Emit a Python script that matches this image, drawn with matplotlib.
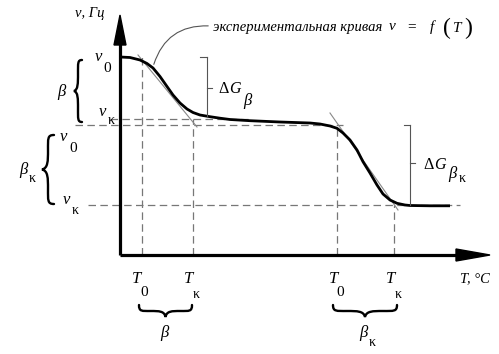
import numpy as np
import matplotlib.pyplot as plt
from matplotlib.path import Path
from matplotlib.patches import PathPatch, Polygon

# experimental curve nu = f(T), schematic units (origin at the axes corner)
T_curve = [0, 10, 20, 27, 33, 40, 47, 53, 60, 67, 73, 80, 90, 100, 110, 130,
           160, 190, 200, 210, 217, 223, 230, 237, 243, 250, 257, 263, 270,
           277, 285, 290, 310, 330]
nu_curve = [198, 197.5, 195, 191.5, 187, 178.5, 168.5, 160, 152, 146, 142.5,
            140, 138.3, 136.8, 135.5, 134.3, 133, 132, 131, 129, 126.7, 122,
            115, 105, 93.3, 82, 70, 61, 55, 51.7, 50, 49.5, 49.2, 49.2]

# characteristic points of the two transitions (beta and beta_k)
T0 = [22, 217]
Tk = [73, 274]
nu0 = [198, 130]
nuk = [136, 50]

# tangents at the inflection points
tan1_T = [18, 77]
tan1_nu = [200, 128]
tan2_T = [210, 278]
tan2_nu = [142, 45]

X0, Y0 = 120, 255  # pixel position of the origin


def px(x, y):
    return x - X0, Y0 - y


def lbl(x, y, s, size=11, style='italic', **kw):
    ax.text(*px(x, y), s, fontsize=size, style=style, ha='center', va='center',
            family=['Liberation Serif', 'DejaVu Serif'], **kw)


def brace(a, b, depth, lw=1.7):
    a = np.array(a, float)
    b = np.array(b, float)
    L = np.linalg.norm(b - a)
    t = (b - a) / L
    n = np.array([t[1], -t[0]])
    m = (a + b) / 2
    tip = m + n * depth
    h = n * depth * 0.5
    q1 = a + t * L * 0.22 + h
    q2 = b - t * L * 0.22 + h
    verts = [a, a + h * 1.1, a + t * L * 0.05 + h, q1,
             q1 + t * L * 0.16, m - t * L * 0.02 + h, tip,
             m + t * L * 0.02 + h, q2 - t * L * 0.16, q2,
             b - t * L * 0.05 + h, b + h * 1.1, b]
    codes = [Path.MOVETO] + [Path.CURVE4] * 12
    ax.add_patch(PathPatch(Path(verts, codes), fill=False, lw=lw,
                           color='black', capstyle='round'))


fig = plt.figure(figsize=(4.99, 3.54), dpi=100)
ax = fig.add_axes([0, 0, 1, 1])
ax.set_xlim(-X0, 499 - X0)
ax.set_ylim(Y0 - 354, Y0)
ax.axis('off')

dash = dict(color='#777777', lw=0.9, dashes=(6, 3.5))
thin = dict(color='#555555', lw=0.8)

# dashed guide lines
ax.plot([T0[0], T0[0]], [0, nu0[0]], **dash)
ax.plot([Tk[0], Tk[0]], [0, nuk[0]], **dash)
ax.plot([T0[1], T0[1]], [0, nu0[1]], **dash)
ax.plot([Tk[1], Tk[1]], [0, nuk[1]], **dash)
ax.plot([-10, 130], [nuk[0], nuk[0]], **dash)
ax.plot([-45, T0[1] + 6], [nu0[1], nu0[1]], **dash)
ax.plot([-32, 340], [nuk[1], nuk[1]], **dash)

# tangents
ax.plot(tan1_T, tan1_nu, color='#888888', lw=0.8)
ax.plot(tan2_T, tan2_nu, color='#888888', lw=0.8)

# curve
ax.plot(T_curve, nu_curve, color='black', lw=2.0, solid_capstyle='butt')

# delta G brackets
ax.plot([87, 87], [nu0[0], 138], **thin)
ax.plot([80, 87], [nu0[0], nu0[0]], **thin)
ax.plot([87, 92], [167, 167], **thin)
ax.plot([290, 290], [nu0[1], nuk[1]], **thin)
ax.plot([284, 290], [nu0[1], nu0[1]], **thin)
ax.plot([290, 295], [92, 92], **thin)

# axes with arrows
ax.plot([0, 0], [0, 215], color='black', lw=2.3, solid_capstyle='butt')
ax.plot([0, 340], [0, 0], color='black', lw=2.3, solid_capstyle='butt')
ax.add_patch(Polygon([(-6, 210), (6, 210), (0, 240)], color='black'))
ax.add_patch(Polygon([(336, -6), (336, 6), (370, 0)], color='black'))

# braces
brace(px(82, 60), px(82, 122), 8)
brace(px(54, 135), px(54, 204), 12)
brace(px(139, 305), px(192, 305), 12)
brace(px(333, 305), px(397, 305), 12)

# annotation with leader line
ax.annotate('', xy=px(153, 67), xytext=px(211, 26),
            arrowprops=dict(arrowstyle='-', color='#555555', lw=0.8,
                            connectionstyle='arc3,rad=0.4'))
lbl(298, 27, 'экспериментальная кривая', size=10.5)
lbl(392, 27, 'ν', size=11)
lbl(412, 27, '=', size=11, style='normal')
lbl(432, 27, 'f', size=11)
lbl(447, 28, '(', size=17, style='normal')
lbl(457, 28, 'T', size=11)
lbl(468, 28, ')', size=17, style='normal')

# labels
lbl(90, 13, 'ν, Гц', size=10.5)
lbl(475, 279, 'T, °C', size=10.5)

lbl(98, 57, 'ν', size=12)
lbl(107, 68, '0', size=11, style='normal')
lbl(102, 112, 'ν', size=12)
lbl(111, 120, 'κ', size=10, style='normal')
lbl(61, 92, 'β', size=12)

lbl(63, 137, 'ν', size=12)
lbl(73, 149, '0', size=11, style='normal')
lbl(66, 200, 'ν', size=12)
lbl(75, 210, 'κ', size=10, style='normal')
lbl(23, 170, 'β', size=12)
lbl(32, 178, 'κ', size=10, style='normal')

lbl(224, 89, 'Δ', size=11.5, style='normal')
lbl(235, 89, 'G', size=11.5)
lbl(247, 101, 'β', size=12)
lbl(429, 165, 'Δ', size=11.5, style='normal')
lbl(440, 165, 'G', size=11.5)
lbl(452, 174, 'β', size=12)
lbl(462, 178, 'κ', size=10, style='normal')

lbl(137, 279, 'T', size=12)
lbl(144, 292, '0', size=11, style='normal')
lbl(189, 279, 'T', size=12)
lbl(196, 294, 'κ', size=10, style='normal')
lbl(334, 279, 'T', size=12)
lbl(340, 292, '0', size=11, style='normal')
lbl(391, 279, 'T', size=12)
lbl(398, 294, 'κ', size=10, style='normal')

lbl(164, 333, 'β', size=12)
lbl(363, 333, 'β', size=12)
lbl(372, 342, 'κ', size=10, style='normal')

fig.savefig('out.png', dpi=100)
